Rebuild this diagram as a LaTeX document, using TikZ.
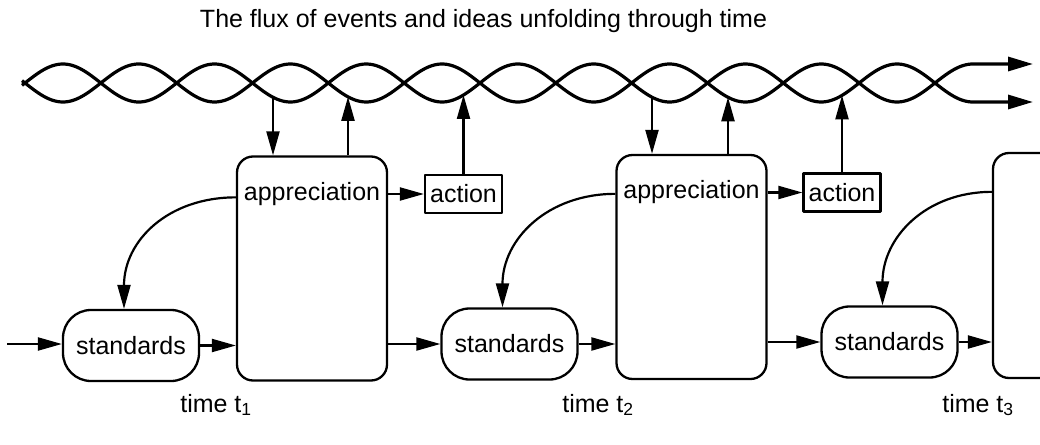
\documentclass[tikz,border=0pt]{standalone}
\usepackage{fontspec}
\setmainfont{Liberation Sans}
\usetikzlibrary{arrows.meta,calc}
% lower envelope of the twisted strands at a given x
\newcommand\braidy[1]{{83+19*abs(sin((#1-25)/75.83*180))}}
\begin{document}
\begin{tikzpicture}[x=1pt,y=-1pt,
  font=\fontsize{25pt}{30pt}\selectfont,
  line join=round,
  strand/.style={line width=3.2pt},
  arr/.style={line width=2.2pt,-{Triangle[length=24pt,width=13pt]}},
  apbox/.style={draw,line width=2.3pt,rounded corners=16pt,minimum width=150pt,minimum height=224pt,inner sep=0pt},
  stdbox/.style={draw,line width=2.3pt,rounded corners=28pt,minimum width=136pt,minimum height=71pt,inner sep=0pt},
  actbox/.style={draw,line width=2.3pt,minimum width=77pt,minimum height=38pt,inner sep=0pt},
  lbl/.style={anchor=base,inner sep=0pt}]
\useasboundingbox (0,0) rectangle (1040,444);
\clip (0,0) rectangle (1040,444);

% title
\node[lbl] (title) at (483.5,28) {The flux of events and ideas unfolding through time};

% the two intertwined strands of events and ideas
\coordinate (t1) at (1033,64);
\coordinate (t2) at (1033,102);
\draw[strand,-{Triangle[length=25pt,width=14pt]}]
  plot[domain=22:972.9,samples=400] (\x,{83-19*sin((\x-25)/75.83*180)}) -- (t1);
\draw[strand,-{Triangle[length=25pt,width=14pt]}]
  plot[domain=22:972.9,samples=400] (\x,{83+19*sin((\x-25)/75.83*180)}) -- (t2);

% attachment points on the strands
\coordinate (b1) at (273,\braidy{273});
\coordinate (b2) at (348,\braidy{348});
\coordinate (b3) at (463.5,\braidy{463.5});
\coordinate (b4) at (652,\braidy{652});
\coordinate (b5) at (728,\braidy{728});
\coordinate (b6) at (842,\braidy{842});

% appreciative systems
\node[apbox] (ap1) at (312,268.5) {};
\node[apbox] (ap2) at (691.5,267) {};
\node[apbox,minimum height=225pt] (ap3) at (1068,265.5) {};
\node[lbl] (ap1t) at ($(ap1.north)+(0,45)$) {appreciation};
\node[lbl] (ap2t) at ($(ap2.north)+(0,45)$) {appreciation};

% actions
\node[actbox] (act1) at (463.5,194) {action};
\node[actbox] (act2) at (842,192.5) {action};

% standards
\node[stdbox] (std1) at (131,345.5) {standards};
\node[stdbox] (std2) at (509.5,344) {standards};
\node[stdbox] (std3) at (889.5,342) {standards};

% time labels
\node[lbl] (tm1) at (216,412) {time t\textsubscript{1}};
\node[lbl] (tm2) at (598,412) {time t\textsubscript{2}};
\node[lbl] (tm3) at (978,412) {time t\textsubscript{3}};

% strands <-> appreciation, action -> strands
\draw[arr] (b1) -- (b1 |- ap1.north);
\draw[arr] (b2 |- ap1.north) -- (b2);
\draw[arr] (act1.north) -- (b3);
\draw[arr] (b4) -- (b4 |- ap2.north);
\draw[arr] (b5 |- ap2.north) -- (b5);
\draw[arr] (act2.north) -- (b6);

% appreciation -> action
\draw[arr] (ap1.east |- act1) -- (act1.west);
\draw[arr] (ap2.east |- act2) -- (act2.west);

% appreciation resets the standards
\draw[arr] ($(ap1.north west)+(0,42)$) .. controls +(-68,0) and +(0,-68) .. ($(std1.north)+(-7,0)$);
\draw[arr] ($(ap2.north west)+(0,40)$) .. controls +(-68,0) and +(0,-68) .. ($(std2.north)+(-7,0)$);
\draw[arr] ($(ap3.north west)+(0,40)$) .. controls +(-66,0) and +(0,-68) .. ($(std3.north)+(-7,0)$);

% flow along the bottom row
\coordinate (in0) at (7,344);
\draw[arr] (in0) -- (in0 -| std1.west);
\draw[arr] (std1.east) -- (std1.east -| ap1.west);
\draw[arr] (ap1.east |- std2) -- (std2.west);
\draw[arr] (std2.east) -- (std2.east -| ap2.west);
\draw[arr] (ap2.east |- std3) -- (std3.west);
\draw[arr] (std3.east) -- (std3.east -| ap3.west);
\end{tikzpicture}
\end{document}
